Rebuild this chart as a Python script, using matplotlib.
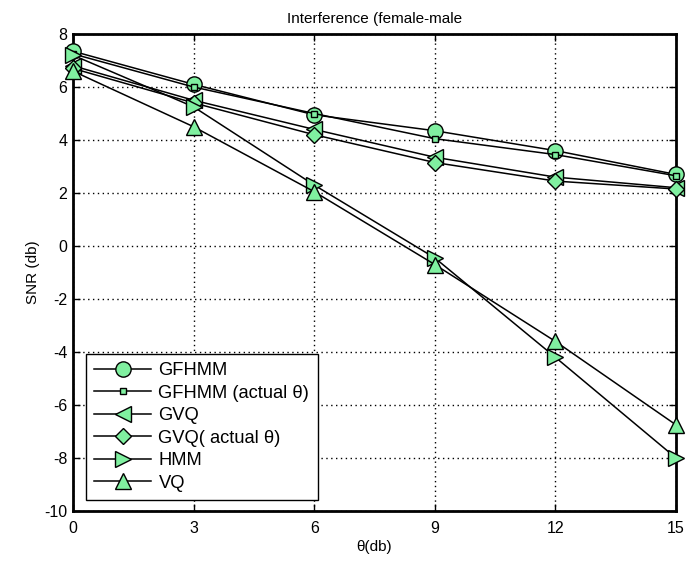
import matplotlib
matplotlib.use("Agg")
import matplotlib.pyplot as plt

x = [0, 3, 6, 9, 12, 15]
gfhmm = [7.35, 6.1, 4.95, 4.35, 3.6, 2.7]
gfhmm_actual = [7.25, 6.0, 5.0, 4.05, 3.45, 2.65]
gvq = [6.8, 5.5, 4.4, 3.35, 2.6, 2.2]
gvq_actual = [6.7, 5.4, 4.2, 3.15, 2.45, 2.15]
hmm = [7.2, 5.25, 2.3, -0.45, -4.2, -8.0]
vq = [6.6, 4.5, 2.05, -0.7, -3.6, -6.75]

labels = ["GFHMM", "GFHMM (actual \u03b8)", "GVQ", "GVQ( actual \u03b8)", "HMM", "VQ"]
series = [gfhmm, gfhmm_actual, gvq, gvq_actual, hmm, vq]
markers = ["o", "s", "<", "D", ">", "^"]
msizes = [11, 5, 11, 8, 11, 11]

plt.rcParams['font.family'] = ['Liberation Sans', 'DejaVu Sans']
plt.rcParams['axes.unicode_minus'] = False

fig = plt.figure(figsize=(6.99, 5.62), dpi=100)
ax = fig.add_axes([73/699, 1-511/562, 603/699, 477/562])

fc = '#80F0A0'
for ys, lab, m, ms in zip(series, labels, markers, msizes):
    ax.plot(x, ys, color='black', lw=1.1, marker=m, markersize=ms,
            markerfacecolor=fc, markeredgecolor='black', markeredgewidth=1.0,
            label=lab, clip_on=False, zorder=3)

ax.set_xlim(0, 15)
ax.set_ylim(-10, 8)
ax.set_xticks([0, 3, 6, 9, 12, 15])
ax.set_yticks(list(range(-10, 9, 2)))
ax.grid(True, color='black', linestyle=(0, (1, 2.5)), linewidth=1.0)
ax.tick_params(direction='in', length=5, width=1, top=True, right=True, labelsize=11.5)
ax.tick_params(axis='x', pad=7)
ax.tick_params(axis='y', pad=4)
for s in ax.spines.values():
    s.set_linewidth(2)
ax.set_title("Interference (female-male", fontsize=11, pad=8)
ax.set_xlabel("\u03b8(db)", fontsize=11, labelpad=3)
ax.set_ylabel("SNR (db)", fontsize=11, labelpad=3)

leg = ax.legend(loc='lower left', bbox_to_anchor=(0.0216, 0.023), borderaxespad=0,
                fancybox=False, edgecolor='black', framealpha=1, handlelength=3.1,
                labelspacing=0.3, borderpad=0.45, handletextpad=0.4, fontsize=13.2)
leg.get_frame().set_linewidth(1.0)
leg.set_zorder(5)

fig.savefig("out.png", dpi=100)
